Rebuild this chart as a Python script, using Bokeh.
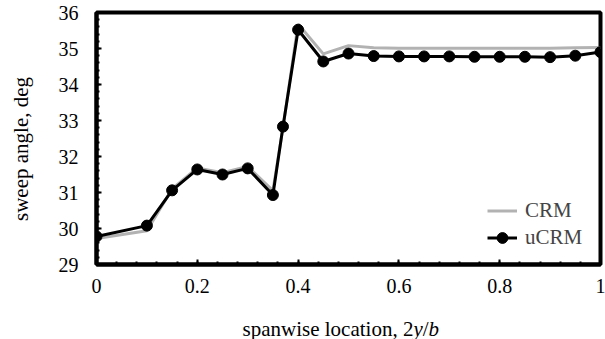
from bokeh.plotting import figure
from bokeh.layouts import column
from bokeh.models import Range1d, FixedTicker, Legend, LegendItem, ColumnDataSource
from bokeh.core.properties import value
from bokeh.embed import file_html
from bokeh.resources import INLINE

# ---- data ----
span = [0.0, 0.1, 0.15, 0.2, 0.25, 0.3, 0.35, 0.37, 0.4, 0.45, 0.5, 0.55,
        0.6, 0.65, 0.7, 0.75, 0.8, 0.85, 0.9, 0.95, 1.0]
crm = [29.72, 29.94, 31.10, 31.68, 31.55, 31.72, 31.05, 32.80, 35.68, 34.85, 35.08, 35.02,
       35.01, 35.01, 35.01, 35.01, 35.01, 35.01, 35.01, 35.02, 35.03]
ucrm = [29.78, 30.08, 31.06, 31.64, 31.50, 31.67, 30.93, 32.83, 35.52, 34.64, 34.86, 34.79,
        34.78, 34.78, 34.78, 34.77, 34.77, 34.77, 34.76, 34.80, 34.90]
x_ticks = [0, 0.2, 0.4, 0.6, 0.8, 1]
x_tick_labels = ["0", "0.2", "0.4", "0.6", "0.8", "1"]
y_ticks = [29, 30, 31, 32, 33, 34, 35, 36]
series_names = ["CRM", "uCRM"]
y_title = "sweep angle, deg"
x_title_parts = ["spanwise location, 2", "y", "/", "b"]
x_title_styles = ["normal", "italic", "normal", "italic"]

FONT = "Liberation Serif"
LEFT, RIGHT = 96, 5

p = figure(width=605, height=305, output_backend="svg", toolbar_location=None,
           x_range=Range1d(0, 1), y_range=Range1d(29, 36),
           min_border_left=LEFT, min_border_right=RIGHT, min_border_top=12, min_border_bottom=41)
p.background_fill_color = "white"
p.border_fill_color = "white"
p.outline_line_color = "black"
p.outline_line_width = 4
p.xgrid.visible = False
p.ygrid.visible = False

minor_x = [round(i * 0.04, 2) for i in range(26)]
minor_y = [round(29 + i * 0.2, 1) for i in range(36)]
p.xaxis.ticker = FixedTicker(ticks=x_ticks, minor_ticks=minor_x)
p.yaxis.ticker = FixedTicker(ticks=y_ticks, minor_ticks=minor_y)
p.xaxis.major_label_overrides = {t: l for t, l in zip(x_ticks, x_tick_labels)}

for ax in (p.xaxis, p.yaxis):
    ax.axis_line_width = 4
    ax.axis_line_color = "black"
    ax.major_tick_in = 5
    ax.major_tick_out = 0
    ax.minor_tick_in = 3
    ax.minor_tick_out = 0
    ax.major_tick_line_width = 2
    ax.minor_tick_line_width = 2
    ax.major_tick_line_color = "black"
    ax.minor_tick_line_color = "black"
    ax.major_label_text_font = FONT
    ax.major_label_text_font_size = "20px"
    ax.major_label_text_color = "black"
p.xaxis.major_label_standoff = 14
p.yaxis.major_label_standoff = 18

# y-axis title (trailing no-break spaces move it down like the reference)
p.yaxis.axis_label = y_title + "\u00a0" * 4
p.yaxis.axis_label_text_font = FONT
p.yaxis.axis_label_text_font_size = "21px"
p.yaxis.axis_label_text_font_style = "normal"
p.yaxis.axis_label_text_color = "black"
p.yaxis.axis_label_standoff = 23

r_crm = p.line(span, crm, line_color="#B2B2B2", line_width=3)
r_u = p.line(span, ucrm, line_color="black", line_width=3)
r_uc = p.scatter(span, ucrm, size=11, marker="circle", fill_color="black", line_color="black")

legend = Legend(items=[LegendItem(label=series_names[0], renderers=[r_crm]),
                       LegendItem(label=series_names[1], renderers=[r_u, r_uc])],
                location=(391, 13), padding=0, margin=0, spacing=0,
                label_height=27, glyph_height=27, glyph_width=30, label_standoff=8,
                label_text_font=FONT, label_text_font_size="21px",
                background_fill_alpha=0, border_line_alpha=0)
p.add_layout(legend)

# ---- x-axis title strip (mixed regular / italic text); frame aligned with p ----
p2 = figure(width=605, height=34, output_backend="svg", toolbar_location=None,
            x_range=Range1d(LEFT, 605 - RIGHT), y_range=Range1d(34, 0),
            x_axis_location=None, y_axis_location=None,
            min_border_left=LEFT, min_border_right=RIGHT, min_border_top=0, min_border_bottom=0)
p2.xgrid.visible = False
p2.ygrid.visible = False
p2.outline_line_color = None
p2.background_fill_color = "white"
p2.border_fill_color = "white"

x0 = 242
offsets = [0.0, 170.9, 180.3, 186.1]
src = ColumnDataSource(dict(x=[x0 + o for o in offsets], y=[23] * 4,
                            text=x_title_parts, style=x_title_styles))
p2.text(x="x", y="y", text="text", source=src, text_font=value(FONT),
        text_font_size="21px", text_font_style="style", text_align="left",
        text_baseline="alphabetic", text_color="black")

layout = column(p, p2, spacing=0)
open("out.html", "w").write(file_html(layout, INLINE))
